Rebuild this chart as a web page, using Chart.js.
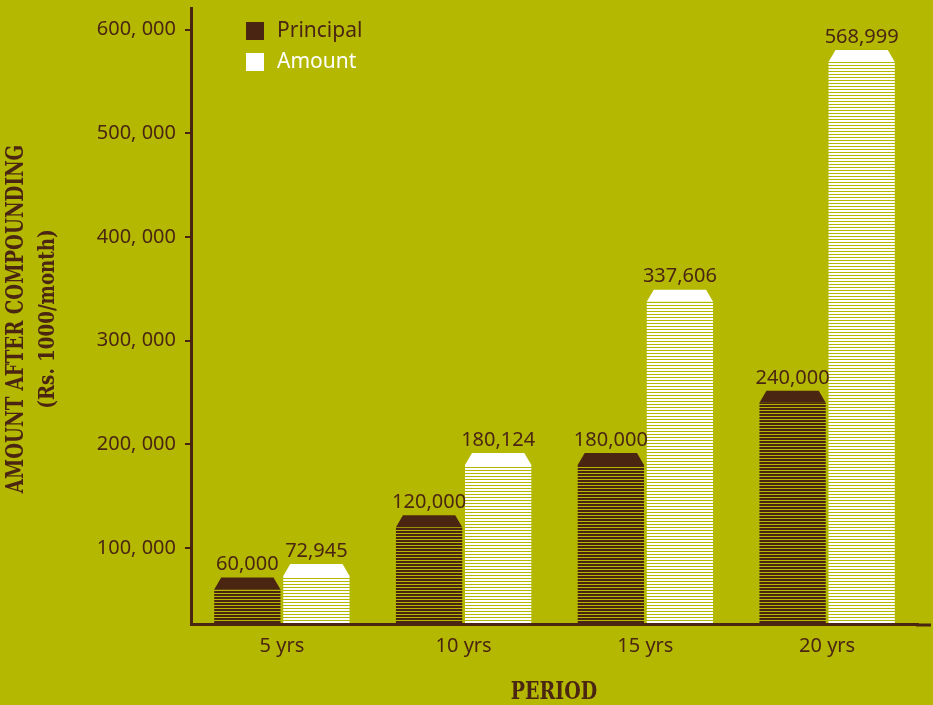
<!DOCTYPE html>
<html>
<head>
<meta charset="utf-8">
<script src="https://cdn.jsdelivr.net/npm/chart.js@4"></script>
<style>
  html, body { margin: 0; background: #b4b800; }
  #wrap { width: 933px; height: 705px; }
</style>
</head>
<body>
<div id="wrap"><canvas id="chart"></canvas></div>
<script>
const periods = ['5 yrs', '10 yrs', '15 yrs', '20 yrs'];
const principal = [60000, 120000, 180000, 240000];
const amount = [72945, 180124, 337606, 568999];
const yTicks = [100000, 200000, 300000, 400000, 500000, 600000];

const brown = '#4a2612';
const white = '#ffffff';
const sans = "'Noto Sans', sans-serif";
const slab = "'DejaVu Serif', 'Liberation Serif', serif";

// horizontal stripe fill like the printed bars
function stripes(color) {
  const c = document.createElement('canvas');
  c.width = 4; c.height = 3;
  const g = c.getContext('2d');
  g.fillStyle = color;
  g.fillRect(0, 0, 4, 2);
  return document.createElement('canvas').getContext('2d').createPattern(c, 'repeat');
}

const fmt = v => v.toLocaleString('en-US');

// squeezed text, the titles use a condensed slab face
function narrowText(ctx, text, x, y, sx) {
  ctx.save();
  ctx.translate(x, y);
  ctx.scale(sx, 1);
  ctx.fillText(text, 0, 0);
  ctx.restore();
}

// caps on top of bars, value labels, legend and axis titles
const extras = {
  id: 'extras',
  afterDatasetsDraw(chart) {
    const ctx = chart.ctx;
    chart.data.datasets.forEach((ds, i) => {
      const meta = chart.getDatasetMeta(i);
      meta.data.forEach((bar, j) => {
        const half = bar.width / 2;
        ctx.save();
        ctx.fillStyle = ds.capColor;
        ctx.beginPath();
        ctx.moveTo(bar.x - half, bar.y);
        ctx.lineTo(bar.x - half + 7, bar.y - 12);
        ctx.lineTo(bar.x + half - 7, bar.y - 12);
        ctx.lineTo(bar.x + half, bar.y);
        ctx.closePath();
        ctx.fill();
        ctx.fillStyle = brown;
        ctx.font = '20px ' + sans;
        ctx.textAlign = 'center';
        ctx.textBaseline = 'bottom';
        ctx.fillText(fmt(ds.data[j]), bar.x, bar.y - 15);
        ctx.restore();
      });
    });
  },
  afterDraw(chart) {
    const ctx = chart.ctx;
    const a = chart.chartArea;
    ctx.save();
    // x axis runs on to the edge
    ctx.strokeStyle = brown;
    ctx.lineWidth = 3;
    ctx.beginPath();
    ctx.moveTo(a.right - 2, a.bottom + 1);
    ctx.lineTo(931, a.bottom + 1);
    ctx.stroke();
    // legend
    ctx.font = '21px ' + sans;
    ctx.textBaseline = 'middle';
    ctx.fillStyle = brown;
    ctx.fillRect(246, 22, 18, 18);
    ctx.fillText('Principal', 277, 31);
    ctx.fillStyle = white;
    ctx.fillRect(246, 53, 18, 18);
    ctx.fillText('Amount', 277, 62);
    // axis titles
    ctx.fillStyle = brown;
    ctx.textAlign = 'center';
    ctx.font = 'bold 25px ' + slab;
    narrowText(ctx, 'PERIOD', 554, 692, 0.76);
    ctx.translate(0, 319);
    ctx.rotate(-Math.PI / 2);
    narrowText(ctx, 'AMOUNT AFTER COMPOUNDING', 0, 16, 0.73);
    ctx.font = 'bold 22px ' + slab;
    narrowText(ctx, '(Rs. 1000/month)', 0, 48, 0.83);
    ctx.restore();
  }
};

const data = {
  labels: periods,
  datasets: [
    { label: 'Principal', data: principal, backgroundColor: stripes(brown), capColor: brown },
    { label: 'Amount', data: amount, backgroundColor: stripes(white), capColor: white }
  ]
};

const options = {
  responsive: true,
  maintainAspectRatio: false,
  animation: false,
  layout: { padding: { top: 8, right: 15, left: 0, bottom: 0 } },
  datasets: { bar: { barPercentage: 0.96, categoryPercentage: 0.76 } },
  plugins: { legend: { display: false }, tooltip: { enabled: false } },
  scales: {
    x: {
      grid: { display: false },
      border: { display: true, color: brown, width: 3 },
      ticks: { color: brown, font: { family: sans, size: 20 }, padding: 2 },
      afterFit(s) { s.height = 81; }
    },
    y: {
      min: 26600,
      max: 621000,
      afterBuildTicks(s) { s.ticks = yTicks.map(v => ({ value: v })); },
      grid: { drawOnChartArea: false, drawTicks: true, tickLength: 6, color: brown, lineWidth: 2 },
      border: { display: true, color: brown, width: 3 },
      ticks: {
        color: brown, font: { family: sans, size: 20 }, padding: 9,
        callback: v => fmt(v).replace(',', ', ')
      },
      afterFit(s) { s.width = 191; s.paddingTop = 0; s.paddingBottom = 0; }
    }
  }
};

const ctx = document.getElementById('chart');
var myChart = new Chart(ctx, { type: 'bar', data: data, options: options, plugins: [extras] });
</script>
</body>
</html>
